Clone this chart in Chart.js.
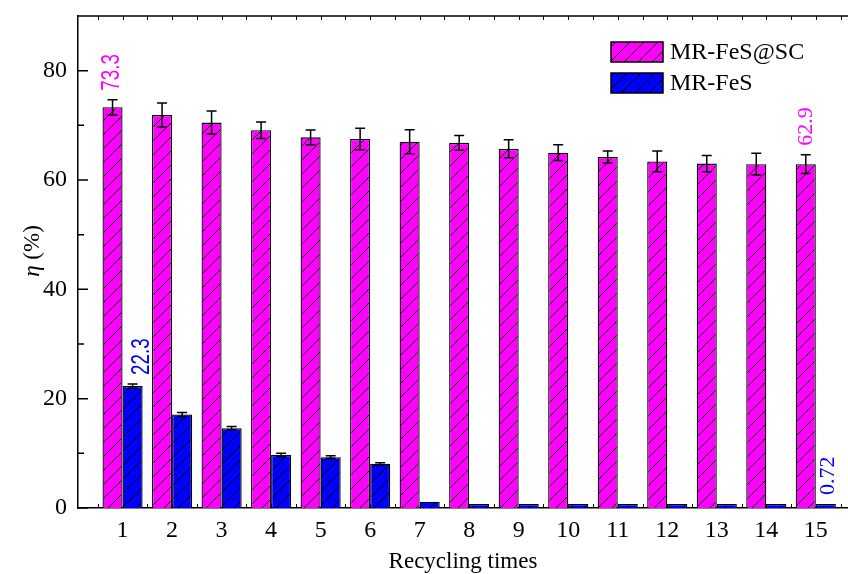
<!DOCTYPE html>
<html>
<head>
<meta charset="utf-8">
<style>
  html, body { margin: 0; padding: 0; background: #fff; overflow: hidden; }
  #wrap { width: 848px; height: 574px; position: relative; }
</style>
<script src="https://cdn.jsdelivr.net/npm/chart.js@4.4.1/dist/chart.umd.min.js"></script>
</head>
<body>
<div id="wrap"><canvas id="c" width="848" height="574"></canvas></div>
<script>
// Recycling cycles
const cycles = [1, 2, 3, 4, 5, 6, 7, 8, 9, 10, 11, 12, 13, 14, 15];
// Removal efficiency η (%) and standard deviation, MR-FeS@SC
const scEff = [73.3, 71.9, 70.5, 69.1, 67.8, 67.5, 67.0, 66.8, 65.7, 65.0, 64.2, 63.4, 63.0, 62.9, 62.9];
const scErr = [1.4, 2.2, 2.1, 1.5, 1.35, 1.95, 2.2, 1.35, 1.65, 1.45, 1.1, 1.9, 1.5, 2.0, 1.7];
// Removal efficiency η (%) and standard deviation, MR-FeS
const fesEff = [22.3, 17.1, 14.6, 9.7, 9.3, 8.1, 1.15, 0.72, 0.72, 0.72, 0.72, 0.72, 0.72, 0.72, 0.72];
const fesErr = [0.4, 0.35, 0.3, 0.3, 0.25, 0.2, 0, 0, 0, 0, 0, 0, 0, 0, 0];
// Axis ticks
const yTicks = [0, 20, 40, 60, 80];
const yMinorTicks = [10, 30, 50, 70];
const seriesNames = ['MR-FeS@SC', 'MR-FeS'];
const seriesColors = ['#FF00FF', '#0000FF'];
// Values written above the first and last cycle: [dataset, index, x-shift px, font]
const valueLabels = [
  [0, 0, 0, 'sans'],
  [0, 14, 0, 'serif'],
  [1, 0, 10, 'sans'],
  [1, 14, 2, 'serif']
];

const SERIF = '"Liberation Serif", "Times New Roman", serif';
const SANS = '"Liberation Sans", Arial, sans-serif';

// diagonal "/" hatch over a solid fill
function hatch(color) {
  const s = 14;
  const p = document.createElement('canvas');
  p.width = s; p.height = s;
  const g = p.getContext('2d');
  g.fillStyle = color;
  g.fillRect(0, 0, s, s);
  g.strokeStyle = '#000';
  g.lineWidth = 1;
  g.beginPath();
  g.moveTo(-s / 2, s / 2); g.lineTo(s / 2, -s / 2);
  g.moveTo(0, s); g.lineTo(s, 0);
  g.moveTo(s / 2, s * 1.5); g.lineTo(s * 1.5, s / 2);
  g.stroke();
  return g.createPattern(p, 'repeat');
}

const ctx = document.getElementById('c').getContext('2d');
const fills = seriesColors.map(hatch);

const errorBars = {
  id: 'errorBars',
  afterDatasetsDraw(chart) {
    const y = chart.scales.y;
    const c = chart.ctx;
    c.save();
    c.strokeStyle = '#000';
    c.lineWidth = 1.5;
    chart.data.datasets.forEach((ds, di) => {
      const meta = chart.getDatasetMeta(di);
      meta.data.forEach((el, i) => {
        const e = ds.err[i];
        if (!e) return;
        const v = ds.data[i].y;
        const top = y.getPixelForValue(v + e);
        const bot = y.getPixelForValue(v - e);
        const cap = 5;
        c.beginPath();
        c.moveTo(el.x, top); c.lineTo(el.x, bot);
        c.moveTo(el.x - cap, top); c.lineTo(el.x + cap, top);
        c.moveTo(el.x - cap, bot); c.lineTo(el.x + cap, bot);
        c.stroke();
      });
    });
    c.restore();
  }
};

const frame = {
  id: 'frame',
  afterDraw(chart) {
    const c = chart.ctx;
    const a = chart.chartArea;
    const xs = chart.scales.x, ys = chart.scales.y;
    c.save();
    c.strokeStyle = '#000';
    // top border
    c.lineWidth = 1.5;
    c.beginPath();
    c.moveTo(a.left, a.top); c.lineTo(a.right + 2, a.top);
    c.stroke();
    // small ticks every half cycle on top and bottom
    c.lineWidth = 1;
    c.beginPath();
    for (let v = 0.5; v <= xs.max; v += 0.5) {
      const px = Math.round(xs.getPixelForValue(v)) + 0.5;
      if (px <= a.left + 1) continue;
      c.moveTo(px, a.top); c.lineTo(px, a.top + 4);
      c.moveTo(px, a.bottom); c.lineTo(px, a.bottom - 4);
    }
    c.stroke();
    // inward ticks on the y axis
    c.lineWidth = 1.5;
    c.beginPath();
    yTicks.forEach(v => {
      const py = ys.getPixelForValue(v);
      c.moveTo(a.left, py); c.lineTo(a.left + 10, py);
    });
    yMinorTicks.forEach(v => {
      const py = ys.getPixelForValue(v);
      c.moveTo(a.left, py); c.lineTo(a.left + 6, py);
    });
    c.stroke();

    // value labels, rotated
    valueLabels.forEach(([di, i, dx, face]) => {
      const ds = chart.data.datasets[di];
      const el = chart.getDatasetMeta(di).data[i];
      const v = ds.data[i].y;
      const yTop = ys.getPixelForValue(v + (ds.err[i] || 0));
      c.save();
      c.translate(el.x + dx, yTop - 9);
      c.rotate(-Math.PI / 2);
      c.fillStyle = seriesColors[di];
      c.textAlign = 'left';
      c.textBaseline = 'middle';
      if (face === 'sans') {
        c.scale(0.75, 1);
        c.font = '25px ' + SANS;
      } else {
        c.font = '22px ' + SERIF;
      }
      c.fillText(String(v), 0, 0);
      c.restore();
    });

    // axis titles
    c.fillStyle = '#000';
    c.font = '23px ' + SERIF;
    c.textAlign = 'center';
    c.textBaseline = 'alphabetic';
    c.fillText('Recycling times', (a.left + a.right) / 2, 568);

    c.save();
    c.translate(33, 251);
    c.rotate(-Math.PI / 2);
    c.textBaseline = 'middle';
    c.textAlign = 'left';
    const eta = 'η', rest = ' (%)';
    c.font = 'italic 23px ' + SERIF;
    const w1 = c.measureText(eta).width;
    c.font = '23px ' + SERIF;
    const w2 = c.measureText(rest).width;
    const x0 = -(w1 + w2) / 2;
    c.font = 'italic 23px ' + SERIF;
    c.fillText(eta, x0, 0);
    c.font = '23px ' + SERIF;
    c.fillText(rest, x0 + w1, 0);
    c.restore();

    // legend
    const bx = 611, bw = 52, bh = 20, rowGap = 31;
    let by = 42;
    chart.data.datasets.forEach((ds, di) => {
      c.fillStyle = ds.backgroundColor;
      c.fillRect(bx, by, bw, bh);
      c.lineWidth = 1.5;
      c.strokeStyle = '#000';
      c.strokeRect(bx, by, bw, bh);
      c.fillStyle = '#000';
      c.font = '24px ' + SERIF;
      c.textAlign = 'left';
      c.textBaseline = 'middle';
      c.fillText(ds.label, bx + bw + 7, by + bh / 2 + 1);
      by += rowGap;
    });
    c.restore();
  }
};

new Chart(ctx, {
  type: 'bar',
  data: {
    datasets: [
      {
        label: seriesNames[0],
        data: cycles.map((c, i) => ({ x: c, y: scEff[i] })),
        err: scErr,
        backgroundColor: fills[0],
        borderColor: '#000',
        borderWidth: 1.3,
        categoryPercentage: 0.81,
        barPercentage: 1
      },
      {
        label: seriesNames[1],
        data: cycles.map((c, i) => ({ x: c, y: fesEff[i] })),
        err: fesErr,
        backgroundColor: fills[1],
        borderColor: '#000',
        borderWidth: 1.3,
        categoryPercentage: 0.81,
        barPercentage: 1
      }
    ]
  },
  options: {
    responsive: false,
    animation: false,
    devicePixelRatio: 1,
    layout: { padding: { top: 16, left: 0, right: 0, bottom: 0 } },
    plugins: { legend: { display: false }, tooltip: { enabled: false } },
    scales: {
      x: {
        type: 'linear',
        offset: false,
        min: 0.1,
        max: 15.65,
        afterBuildTicks: s => { s.ticks = cycles.map(v => ({ value: v })); },
        afterFit: s => { s.height = 66; s.paddingLeft = 0; s.paddingRight = 0; },
        grid: { display: false, drawTicks: false, offset: false },
        border: { display: true, color: '#000', width: 1.5 },
        ticks: {
          padding: 8,
          color: '#000',
          maxRotation: 0,
          autoSkip: false,
          font: { family: SERIF, size: 24 },
          callback: v => String(v)
        }
      },
      y: {
        min: 0,
        max: 90,
        afterBuildTicks: s => { s.ticks = yTicks.map(v => ({ value: v })); },
        afterFit: s => { s.width = 78; s.paddingTop = 0; s.paddingBottom = 0; },
        grid: { display: false, drawTicks: false },
        border: { display: true, color: '#000', width: 1.5 },
        ticks: {
          padding: 11,
          color: '#000',
          font: { family: SERIF, size: 24 },
          callback: v => String(v)
        }
      }
    }
  },
  plugins: [errorBars, frame]
});
</script>
</body>
</html>
